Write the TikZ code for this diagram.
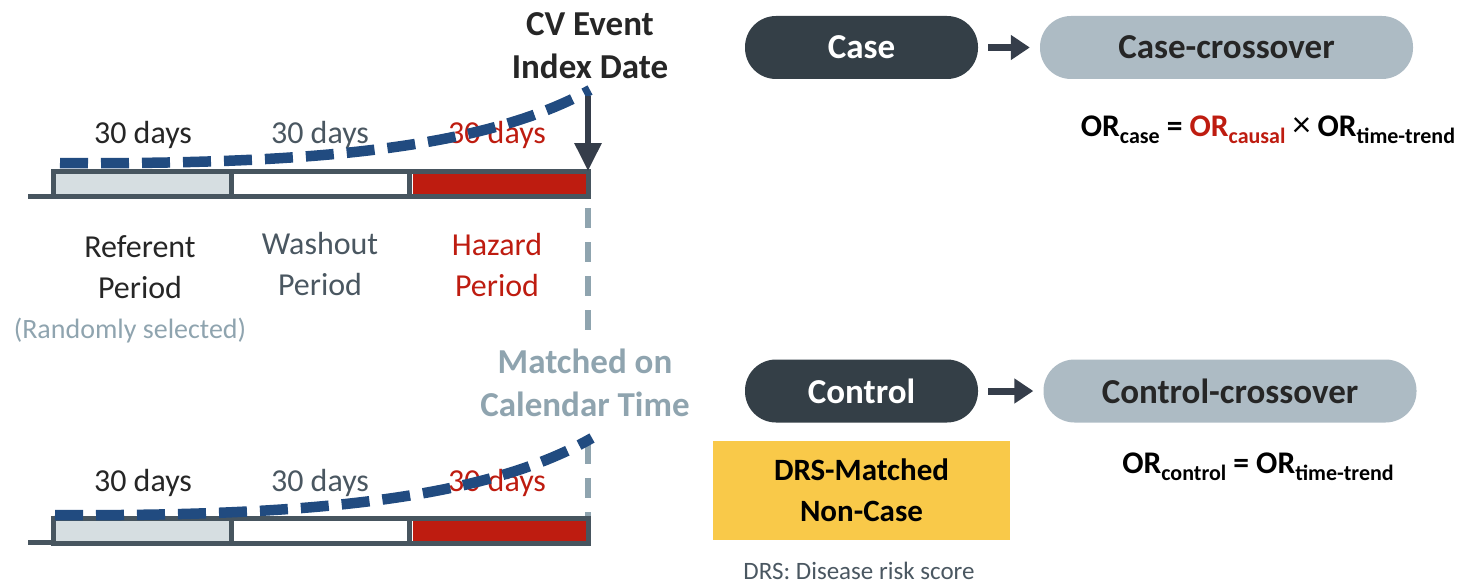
\documentclass[tikz,border=0pt]{standalone}
\usepackage{fontspec}
\setmainfont{Carlito}
\usetikzlibrary{arrows.meta}
\definecolor{pilldark}{HTML}{343F47}
\definecolor{pillgray}{HTML}{ADBBC4}
\definecolor{barline}{HTML}{47555F}
\definecolor{refgray}{HTML}{D6DEE1}
\definecolor{hazred}{HTML}{BE1C10}
\definecolor{curveblue}{HTML}{214B80}
\definecolor{matchgray}{HTML}{8FA4AF}
\definecolor{txtdark}{HTML}{262626}
\definecolor{txtgray}{HTML}{4A5761}
\definecolor{drsyellow}{HTML}{F9C949}
\definecolor{arrowdark}{HTML}{353D4A}
\newcommand\sbs[1]{\raisebox{-7pt}{\fontsize{22}{22}\selectfont #1}}
\tikzset{
  bartrack/.style={draw=barline,line width=5pt},
  trend/.style={draw=curveblue,line width=10.5pt,dash pattern=on 28pt off 13pt},
  matchline/.style={draw=matchgray,line width=5.5pt,dash pattern=on 20pt off 14pt},
  lbl/.style={font=\fontsize{32}{41}\selectfont,align=center,inner sep=0pt},
  boldlbl/.style={font=\bfseries\fontsize{35}{43}\selectfont,align=center,inner sep=0pt},
  pill/.style={rounded corners=31pt,minimum width=233pt,minimum height=63pt,inner sep=0pt,font=\bfseries\fontsize{35}{40}\selectfont},
  pilllong/.style={pill,minimum width=373pt,fill=pillgray,text=txtdark},
  pilldk/.style={pill,fill=pilldark,text=white},
  smallarrow/.style={draw=arrowdark,line width=7pt,-{Triangle[length=19pt,width=24pt]},shorten <=10pt,shorten >=10pt},
  formula/.style={font=\bfseries\fontsize{31.5}{36}\selectfont,inner sep=0pt,text=black}
}
\begin{document}
\begin{tikzpicture}[x=1pt,y=-1pt]
\useasboundingbox (0,0) rectangle (1474,583);

% ---------- top timeline ----------
\fill[refgray] (53,171) rectangle (231,196);
\fill[white] (231,171) rectangle (409,196);
\fill[hazred] (413,173) rectangle (586,194);
\draw[bartrack] (53,171) rectangle (588,196);
\draw[bartrack] (231,171) -- (231,196);
\draw[bartrack] (409,171) -- (409,196);
\draw[bartrack] (28,196) -- (53,196);
\coordinate (topidx) at (588,171);
\coordinate (cvtop) at (588,96);

\node[lbl,text=txtdark] (d1) at (143,135) {30 days};
\node[lbl,text=txtgray] (d2) at (320,135) {30 days};
\node[lbl,text=hazred] (d3) at (497,135) {30 days};

\draw[trend] (60,163) .. controls (330,165) and (490,145) .. (590,90);

\draw[draw=arrowdark,line width=6pt,-{Triangle[length=28pt,width=26pt]}] (cvtop) -- (topidx);

\node[boldlbl,text=txtdark] (cv) at (590,46) {CV Event\\Index Date};

\node[lbl,text=txtdark] (ref) at (140,267) {Referent\\Period};
\node[lbl,text=txtgray] (wash) at (320,264) {Washout\\Period};
\node[lbl,text=hazred] (haz) at (497,265) {Hazard\\Period};
\node[font=\fontsize{28}{32}\selectfont,text=matchgray,inner sep=0pt] (rand) at (130,331) {(Randomly selected)};

% ---------- matching line ----------
\node[boldlbl,text=matchgray] (match) at (585,383) {Matched on\\Calendar Time};
\coordinate (m1) at (588,208);
\coordinate (m2) at (588,330);
\coordinate (m3) at (588,444);
\coordinate (m4) at (588,517);
\draw[matchline] (m1) -- (m2);
\draw[matchline] (m3) -- (m4);

% ---------- bottom timeline ----------
\fill[refgray] (53,518) rectangle (231,543);
\fill[white] (231,518) rectangle (409,543);
\fill[hazred] (413,520) rectangle (586,541);
\draw[bartrack] (53,518) rectangle (588,543);
\draw[bartrack] (231,518) -- (231,543);
\draw[bartrack] (409,518) -- (409,543);
\draw[bartrack] (28,542) -- (53,542);

\node[lbl,text=txtdark] (e1) at (143,483) {30 days};
\node[lbl,text=txtgray] (e2) at (320,483) {30 days};
\node[lbl,text=hazred] (e3) at (497,483) {30 days};

\draw[trend] (55,515) .. controls (330,517) and (492,495) .. (592,438);

% ---------- right side ----------
\node[pilldk] (case) at (861.5,47.5) {Case};
\node[pilllong] (cc) at (1226.5,47.5) {Case-crossover};
\draw[smallarrow] (case.east) -- (cc.west);

\node[formula] (orcase) at (1268,130) {OR\sbs{case} = {\color{hazred}OR\sbs{causal}} {\mdseries\fontsize{36}{36}\selectfont\texttimes} OR\sbs{time-trend}};

\node[pilldk] (ctrl) at (861.5,391) {Control};
\node[pilllong] (ctc) at (1230,391) {Control-crossover};
\draw[smallarrow] (ctrl.east) -- (ctc.west);

\node[fill=drsyellow,minimum width=297pt,minimum height=99pt,inner sep=0pt,align=center,font=\bfseries\fontsize{31}{41}\selectfont,text=black] (drs) at (861.5,490.5) {DRS-Matched\\Non-Case};

\node[formula] (orctrl) at (1258,467) {OR\sbs{control} = OR\sbs{time-trend}};

\node[font=\fontsize{25}{30}\selectfont,text=txtgray,inner sep=0pt] (note) at (859,571) {DRS: Disease risk score};
\end{tikzpicture}
\end{document}
